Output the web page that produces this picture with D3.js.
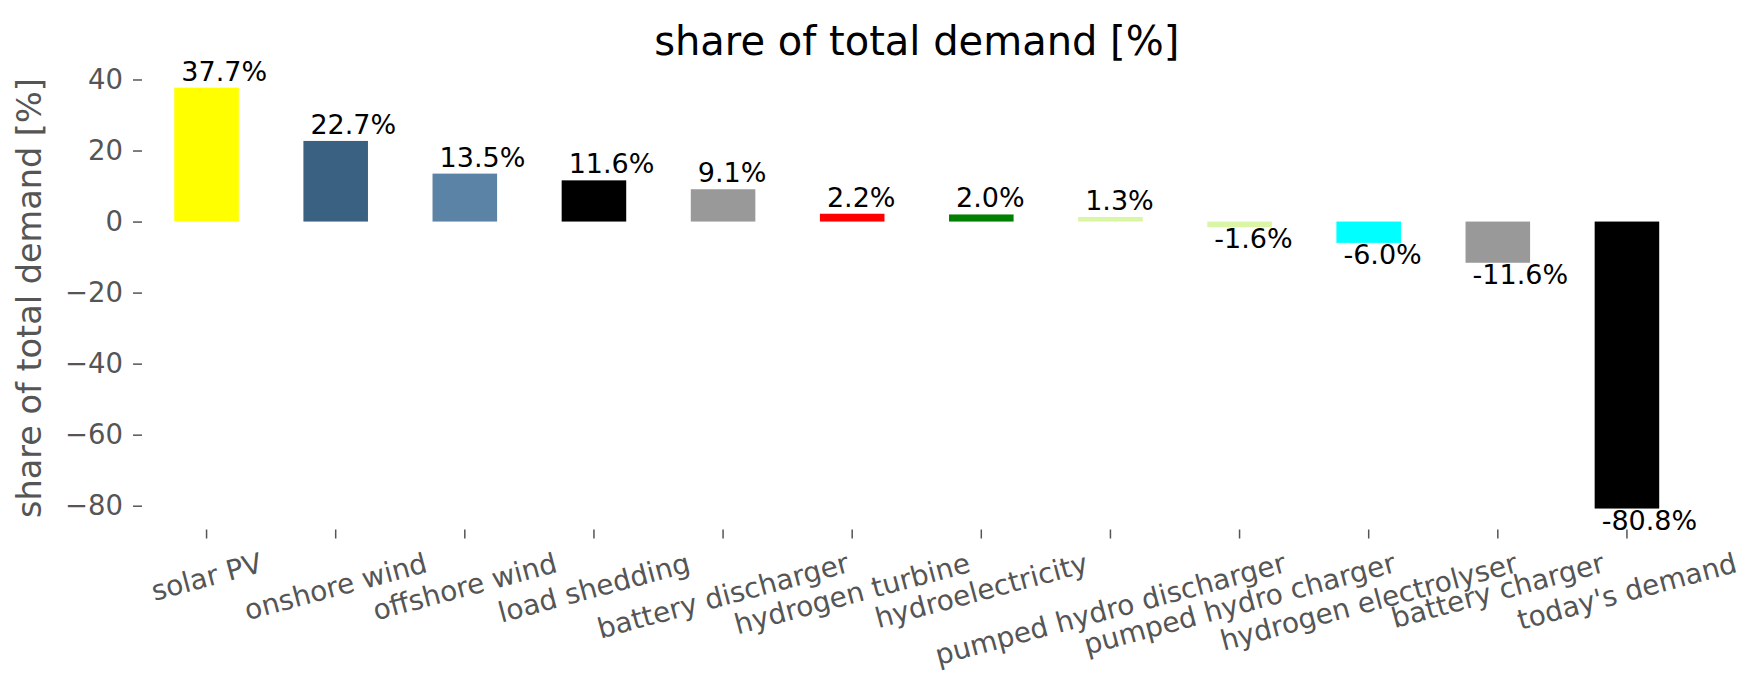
<!DOCTYPE html>
<html>
<head>
<meta charset="utf-8">
<script src="https://cdn.jsdelivr.net/npm/d3@7"></script>
<style>
  body { margin: 0; background: #fff; }
  text { font-family: "DejaVu Sans", sans-serif; }
</style>
</head>
<body>
<div id="chart"></div>
<script>
// categories, values and bar colours
const categories = ["solar PV", "onshore wind", "offshore wind", "load shedding",
  "battery discharger", "hydrogen turbine", "hydroelectricity", "pumped hydro discharger",
  "pumped hydro charger", "hydrogen electrolyser", "battery charger", "today's demand"];
const shares = [37.7, 22.7, 13.5, 11.6, 9.1, 2.2, 2.0, 1.3, -1.6, -6.0, -11.6, -80.8];
const barColors = ["#ffff00", "#3b6182", "#5b83a5", "#000000", "#999999", "#ff0000",
  "#008000", "#daf5a6", "#daf5a6", "#00ffff", "#999999", "#000000"];
const yTicks = [40, 20, 0, -20, -40, -60, -80];

const width = 1759, height = 689;
const plotLeft = 142, plotRight = 1691.5, plotTop = 66.7, plotBottom = 529.5;

const svg = d3.select("#chart").append("svg")
    .attr("width", width)
    .attr("height", height);

// scales
const x = d3.scaleBand().domain(categories).range([plotLeft, plotRight])
    .paddingInner(0.5).paddingOuter(0.25);
const y = d3.scaleLinear().domain([-86.7, 43.6]).range([plotBottom, plotTop]);

// bars
svg.selectAll(".bar")
  .data(shares)
  .enter().append("rect")
    .attr("class", "bar")
    .attr("x", (d, i) => x(categories[i]))
    .attr("width", x.bandwidth())
    .attr("y", d => y(Math.max(0, d)))
    .attr("height", d => Math.abs(y(d) - y(0)))
    .attr("fill", (d, i) => barColors[i]);

// value labels
svg.selectAll(".val")
  .data(shares)
  .enter().append("text")
    .attr("class", "val")
    .attr("x", (d, i) => x(categories[i]) + 7)
    .attr("y", d => d >= 0 ? y(d) - 7 : y(d) + 21)
    .style("font-size", "27px")
    .attr("fill", "#000")
    .text(d => d.toFixed(1) + "%");

// y axis
const yAxis = svg.append("g")
    .attr("transform", "translate(" + plotLeft + ",0)")
    .call(d3.axisLeft(y).tickValues(yTicks).tickSize(9).tickPadding(10)
      .tickFormat(d => d < 0 ? "\u2212" + Math.abs(d) : d));
yAxis.select(".domain").remove();
yAxis.selectAll("line").attr("stroke", "#555").attr("stroke-width", 1.5);
yAxis.selectAll("text").attr("fill", "#555").style("font-size", "27.5px")
    .style("font-family", "DejaVu Sans");

// x axis
const xAxis = svg.append("g")
    .attr("transform", "translate(0," + plotBottom + ")")
    .call(d3.axisBottom(x).tickSize(9).tickFormat(""));
xAxis.select(".domain").remove();
xAxis.selectAll("line").attr("stroke", "#555").attr("stroke-width", 1.5);

// rotated x tick labels, bbox top just below the tick marks
const angle = 15 * Math.PI / 180;
const labelTop = plotBottom + 9 + 8;
const fs = 28;
svg.selectAll(".xlab")
  .data(categories)
  .enter().append("text")
    .attr("class", "xlab")
    .attr("text-anchor", "middle")
    .style("font-size", fs + "px")
    .attr("fill", "#555")
    .text(d => d)
    .each(function(d) {
      const w = this.getComputedTextLength();
      const h = 1.164 * fs;
      const cx = x(d) + x.bandwidth() / 2;
      const cy = labelTop + (w * Math.sin(angle) + h * Math.cos(angle)) / 2;
      d3.select(this)
        .attr("x", 0).attr("y", 0.346 * fs)
        .attr("transform", "translate(" + cx + "," + cy + ") rotate(-15)");
    });

// y label
svg.append("text")
    .attr("transform", "translate(41," + ((plotTop + plotBottom) / 2) + ") rotate(-90)")
    .attr("text-anchor", "middle")
    .style("font-size", "33.5px")
    .attr("fill", "#555")
    .text("share of total demand [%]");

// title
svg.append("text")
    .attr("x", (plotLeft + plotRight) / 2)
    .attr("y", 55)
    .attr("text-anchor", "middle")
    .style("font-size", "40px")
    .attr("fill", "#000")
    .text("share of total demand [%]");
</script>
</body>
</html>
